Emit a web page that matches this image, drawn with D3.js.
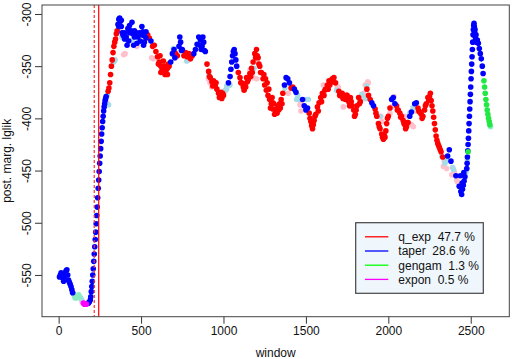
<!DOCTYPE html>
<html>
<head>
<meta charset="utf-8">
<script src="https://cdn.jsdelivr.net/npm/d3@7"></script>
<style>
  html, body { margin: 0; padding: 0; background: #fff; }
  svg { display: block; font-family: "Liberation Sans", Arial, sans-serif; }
</style>
</head>
<body>
<div id="wrapper"></div>
<script>
// [window, post. marg. lglik] per best model
const taper = [
  [5,-552],[10,-550],[15,-548],[20,-550],[25,-553],[30,-556],[35,-552],[40,-548],[45,-546],[50,-545],
  [55,-550],[60,-555],[65,-557],[70,-559],[75,-561],[80,-564],[85,-567],[180,-577],[186,-576],
  [192,-574],[195,-571],[198,-566],[201,-561],[204,-556],[207,-550],[210,-544],[213,-537],[216,-530],
  [219,-523],[222,-516],[225,-509],[228,-501],[231,-493],[234,-485],[237,-476],[240,-467],[243,-459],
  [246,-451],[249,-443],[252,-436],[255,-429],[258,-422],[261,-415],[264,-409],[267,-403],[270,-398],
  [273,-393],[276,-389],[279,-386],[282,-383],[285,-381],[288,-379],
  [360,-310],[365,-305],[370,-304],[375,-307],[380,-312],[385,-318],[390,-320],[395,-321],[400,-324],
  [410,-322],[420,-314],[430,-311],[440,-316],[450,-319],[460,-322],[470,-318],[480,-322],[490,-318],
  [500,-320],[510,-317],[520,-321],[530,-323],[415,-330],[425,-326],[455,-330],[475,-328],[495,-326],
  [515,-330],[445,-308],[505,-312],[560,-326],[400,-318],[430,-318],[460,-316],[520,-327],[530,-317],
  [365,-312],[380,-306],
  [680,-346],[690,-338],[700,-334],[705,-342],[730,-331],[735,-322],[740,-327],[745,-335],[750,-334],
  [820,-338],[830,-334],[840,-329],[850,-322],[860,-325],[870,-331],[880,-327],[890,-336],
  [855,-330],[865,-334],[875,-322],[885,-335],
  [1030,-366],[1040,-360],[1045,-353],[1050,-346],[1055,-340],[1060,-336],[1065,-334],[1070,-338],
  [1075,-344],[1080,-350],
  [1370,-368],[1380,-361],[1390,-362],[1400,-366],[1430,-372],[1440,-375],
  [1480,-382],[1490,-388],[1500,-392],[1510,-390],[1900,-385],[1910,-388],
  [2020,-382],[2030,-380],[2040,-386],[2130,-398],[2140,-394],[2160,-386],[2170,-385],
  [2360,-436],[2370,-430],[2380,-441],[2410,-455],[2430,-465],[2437,-455],[2440,-470],[2445,-473],
  [2448,-462],[2450,-468],[2455,-464],[2458,-452],[2460,-460],[2465,-456],
  [2476,-448],[2478,-443],[2480,-437],[2482,-431],[2484,-425],[2486,-419],[2488,-412],[2490,-405],
  [2492,-398],[2494,-391],[2496,-384],[2498,-377],[2500,-370],[2502,-362],[2504,-355],[2506,-348],
  [2508,-341],[2510,-334],[2512,-327],[2514,-320],[2516,-315],[2518,-311],[2520,-309],[2522,-312],
  [2524,-318],[2526,-315],[2528,-322],[2530,-325],[2532,-320],[2535,-327],
  [2540,-325],[2546,-328],[2552,-333],[2558,-338],[2564,-343],[2570,-350],[2575,-357]
];

const qExp = [
  [300,-374],[305,-371],[310,-366],[315,-358],[320,-350],[325,-344],[330,-337],[335,-331],[340,-327],
  [345,-324],[350,-319],[355,-316],
  [540,-320],[550,-323],[570,-331],[580,-330],[590,-336],[600,-341],[610,-346],[620,-350],[630,-352],
  [640,-355],[650,-354],[660,-352],[670,-350],[615,-340],[635,-345],[645,-358],[655,-357],[625,-355],
  [605,-348],[620,-356],[640,-350],[660,-358],[665,-348],
  [710,-338],[720,-340],
  [760,-340],[770,-337],[780,-341],[790,-338],[800,-343],[810,-340],
  [900,-348],[910,-355],[920,-361],[930,-365],[940,-364],[950,-369],[960,-372],[970,-376],[980,-379],
  [990,-381],[1000,-378],[915,-360],[935,-369],[955,-366],[975,-380],[985,-375],[995,-376],
  [1090,-356],[1100,-361],[1110,-366],[1120,-370],[1130,-367],[1140,-361],[1150,-363],[1160,-357],
  [1170,-352],[1180,-346],[1190,-338],[1200,-334],[1210,-342],[1220,-350],[1230,-356],[1240,-362],
  [1250,-368],[1260,-373],[1270,-378],[1280,-382],[1290,-386],[1300,-391],[1310,-396],[1320,-391],
  [1330,-388],[1340,-386],[1350,-382],[1360,-376],[1265,-366],[1285,-390],[1305,-386],[1295,-380],
  [1105,-366],[1125,-373],[1135,-370],[1145,-365],[1165,-360],[1175,-356],
  [1245,-358],[1255,-362],[1275,-372],[1300,-385],[1315,-392],[1325,-395],[1335,-392],[1345,-390],
  [1355,-386],[1205,-340],[1215,-348],[1195,-342],[1225,-356],
  [1410,-371],[1420,-370],
  [1520,-395],[1530,-403],[1540,-410],[1550,-402],[1560,-396],[1570,-389],[1580,-385],[1590,-380],
  [1600,-376],[1610,-378],[1620,-372],[1630,-368],[1640,-364],[1650,-365],[1660,-362],[1670,-361],
  [1680,-366],[1525,-400],[1535,-407],[1545,-406],[1555,-398],[1575,-393],[1595,-384],[1615,-373],
  [1635,-372],[1645,-368],[1665,-365],
  [1700,-374],[1710,-378],[1720,-376],[1730,-380],[1740,-382],[1750,-378],[1760,-384],[1770,-380],
  [1780,-388],[1790,-392],[1800,-396],[1810,-388],[1820,-380],[1830,-384],
  [1705,-378],[1725,-381],[1745,-378],[1765,-388],[1775,-384],[1795,-398],[1805,-392],[1825,-386],
  [1870,-372],[1880,-378],[1890,-382],
  [1920,-391],[1930,-398],[1940,-405],[1950,-410],[1960,-415],[1970,-420],[1980,-418],[1990,-405],
  [2000,-398],[2010,-390],[1925,-395],[1945,-408],[1965,-418],[1975,-416],[1985,-412],[1995,-400],
  [2050,-388],[2060,-392],[2070,-395],[2080,-398],[2090,-402],[2100,-406],[2110,-408],[2120,-404],
  [2055,-392],[2075,-399],[2095,-405],[2105,-410],[2115,-404],
  [2180,-390],[2190,-394],[2200,-396],[2210,-398],[2220,-392],[2230,-386],[2240,-380],[2250,-379],
  [2185,-393],[2205,-400],[2225,-388],[2245,-383],[2255,-376],
  [2260,-383],[2265,-388],[2270,-393],[2275,-399],[2280,-405],[2285,-411],[2290,-417],[2295,-421],
  [2300,-424],[2305,-426],[2310,-428],[2315,-430],[2320,-432],[2330,-437]
];

const gengam = [
  [2484,-432],[2580,-364],[2584,-370],[2588,-376],[2592,-382],[2596,-387],[2600,-392],[2604,-396],
  [2608,-400],[2612,-403],[2616,-406]
];

const expon = [[150,-577],[156,-578],[162,-578],[168,-578]];

// weaker support, drawn in light colours
const taperLow = [
  [81,-566],[90,-568],[96,-570],[110,-570],[114,-571],[120,-570],[132,-572],[138,-573],[283,-384],
  [295,-378],[303,-387],[334,-346],[342,-344],[384,-322],[405,-324],[414,-325],[445,-325],[696,-333],
  [777,-345],[808,-340],[912,-358],[1010,-373],[1019,-372],[1020,-369],[1039,-368],[1185,-352],
  [1373,-371],[1444,-382],[1450,-378],[1460,-382],[1504,-382],[1515,-382],[1687,-373],[1840,-377],
  [1860,-381],[1869,-369],[1950,-398],[2030,-382],[2131,-395],[2150,-390],[2162,-390],[2324,-436],
  [2344,-443],[2350,-440],[2390,-447],[2395,-449],[2470,-452],[2476,-449],[2480,-440]
];

const qExpLow = [
  [141,-575],[144,-575],[174,-577],[293,-385],[394,-339],[403,-338],[475,-331],[564,-342],[574,-343],
  [706,-342],[786,-344],[908,-362],[918,-366],[928,-370],[1009,-374],[1161,-354],[1181,-361],
  [1201,-362],[1211,-347],[1393,-376],[1464,-387],[1470,-385],[1470,-393],[1505,-391],[1606,-368],
  [1636,-371],[1690,-370],[1697,-370],[1707,-376],[1727,-389],[1838,-380],[1840,-380],[1849,-379],
  [1850,-376],[1860,-368],[1875,-365],[1879,-366],[1955,-398],[1960,-403],[2010,-395],[2020,-389],
  [2035,-379],[2101,-398],[2141,-406],[2152,-408],[2167,-393],[2334,-446],[2340,-441],[2354,-448],
  [2385,-454],[2400,-451],[2415,-459],[2420,-461]
];

const gengamLow = [[100,-572],[102,-571],[108,-572],[121,-569],[126,-571],[2620,-408]];

const xTicks = [0, 500, 1000, 1500, 2000, 2500];
const yTicks = [-550, -500, -450, -400, -350, -300];

// change point (solid) and its lower bound (dashed)
const changeWindow = 243;
const changeWindowLow = 216;

const legendLabels = ["q_exp  47.7 %", "taper  28.6 %", "gengam  1.3 %", "expon  0.5 %"];
const legendColors = ["#ff0000", "#0000ff", "#00ff00", "#ff00ff"];

function drawChart() {
    let dimensions = {
        width: 512,
        height: 359,
        margin: { top: 5, right: 2.7, bottom: 42.3, left: 42 },
    };
    dimensions.boundedWidth = dimensions.width - dimensions.margin.left - dimensions.margin.right;
    dimensions.boundedHeight = dimensions.height - dimensions.margin.top - dimensions.margin.bottom;

    const wrapper = d3.select("#wrapper")
        .append("svg")
        .attr("width", dimensions.width)
        .attr("height", dimensions.height);

    const bounds = wrapper.append("g")
        .attr("transform", `translate(${dimensions.margin.left},${dimensions.margin.top})`);

    // R style limits: data range plus 4% each side
    const xScale = d3.scaleLinear()
        .domain([-101, 2734])
        .range([0, dimensions.boundedWidth]);

    const yScale = d3.scaleLinear()
        .domain([-590, -291.4])
        .range([dimensions.boundedHeight, 0]);

    function drawDots(series, color) {
        bounds.append("g")
            .selectAll("circle")
            .data(series)
            .join("circle")
            .attr("cx", d => xScale(d[0]))
            .attr("cy", d => yScale(d[1]))
            .attr("r", 2.8)
            .attr("fill", color);
    }

    drawDots(qExpLow, "#ffc0cb");
    drawDots(taperLow, "#a6dbe8");
    drawDots(gengamLow, "#8aeebf");
    drawDots(qExp, "#ff0000");
    drawDots(taper, "#0000ff");
    drawDots(gengam, "#22e844");
    drawDots(expon, "#ff00ff");

    // change point lines
    bounds.append("line")
        .attr("x1", xScale(changeWindowLow)).attr("x2", xScale(changeWindowLow))
        .attr("y1", 0).attr("y2", dimensions.boundedHeight)
        .attr("stroke", "#ff3030")
        .attr("stroke-width", 1.2)
        .attr("stroke-dasharray", "3,2");

    bounds.append("line")
        .attr("x1", xScale(changeWindow)).attr("x2", xScale(changeWindow))
        .attr("y1", 0).attr("y2", dimensions.boundedHeight)
        .attr("stroke", "#ff0000")
        .attr("stroke-width", 1.2);

    // axes
    const xAxis = bounds.append("g")
        .attr("transform", `translate(0,${dimensions.boundedHeight})`)
        .call(d3.axisBottom(xScale).tickValues(xTicks).tickSize(7).tickPadding(3).tickFormat(d => String(d)));

    const yAxis = bounds.append("g")
        .call(d3.axisLeft(yScale).tickValues(yTicks).tickSize(7).tickFormat(d => String(d)));

    [xAxis, yAxis].forEach(axis => {
        axis.attr("font-size", 12).attr("font-family", null);
        axis.select(".domain").remove();
        axis.selectAll(".tick line").attr("stroke", "#333");
        axis.selectAll(".tick text").attr("fill", "#111");
    });

    yAxis.selectAll(".tick text")
        .attr("x", 0)
        .attr("y", -11.5)
        .attr("dy", 0)
        .attr("text-anchor", "middle")
        .attr("transform", "rotate(-90)");

    // plot frame
    bounds.append("rect")
        .attr("width", dimensions.boundedWidth)
        .attr("height", dimensions.boundedHeight)
        .attr("fill", "none")
        .attr("stroke", "#444");

    wrapper.append("text")
        .attr("x", dimensions.margin.left + dimensions.boundedWidth / 2)
        .attr("y", 356.5)
        .attr("text-anchor", "middle")
        .attr("font-size", 12)
        .attr("fill", "#111")
        .text("window");

    wrapper.append("text")
        .attr("transform", `translate(11,${dimensions.margin.top + dimensions.boundedHeight / 2}) rotate(-90)`)
        .attr("text-anchor", "middle")
        .attr("font-size", 12)
        .attr("fill", "#111")
        .text("post. marg. lglik");

    // legend
    const legend = wrapper.append("g");
    legend.append("rect")
        .attr("x", 355.7).attr("y", 222.7)
        .attr("width", 127.6).attr("height", 70.6)
        .attr("fill", "#eff7fd")
        .attr("stroke", "#444")
        .attr("stroke-width", 1.2);

    const rows = legend.selectAll("g.row")
        .data(legendLabels)
        .join("g")
        .attr("class", "row")
        .attr("transform", (d, i) => `translate(0,${236.8 + i * 14.2})`);

    rows.append("line")
        .attr("x1", 365).attr("x2", 388.3)
        .attr("stroke", (d, i) => legendColors[i])
        .attr("stroke-width", 1.3);

    rows.append("text")
        .attr("x", 398.3)
        .attr("dy", "0.36em")
        .attr("font-size", 12)
        .attr("fill", "#111")
        .style("white-space", "pre")
        .text(d => d);
}

drawChart();
</script>
</body>
</html>
